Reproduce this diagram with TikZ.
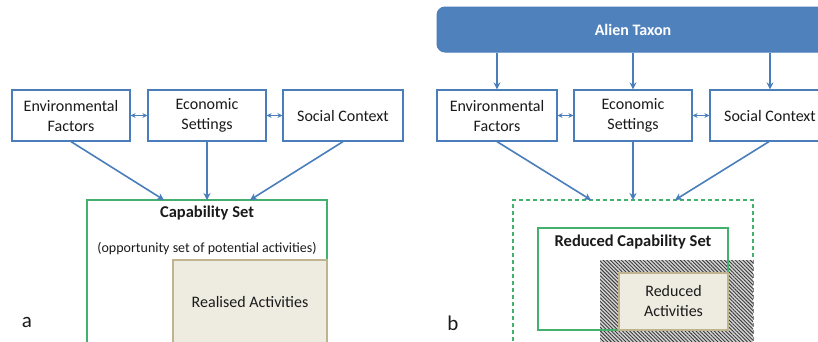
\documentclass[tikz,border=0pt]{standalone}
\usepackage{fontspec}
\setmainfont{Carlito}
\usetikzlibrary{arrows.meta,patterns.meta}

\definecolor{lineblue}{HTML}{4A7EBB}
\definecolor{taxonblue}{HTML}{4F81BD}
\definecolor{setgreen}{HTML}{45B06E}
\definecolor{actfill}{HTML}{EEECE1}
\definecolor{actedge}{HTML}{C0B48E}
\definecolor{hatchbg}{HTML}{D4D4D4}
\definecolor{hatchline}{HTML}{3A3A3A}
\definecolor{ink}{HTML}{1A1A1A}

\tikzset{
  factor/.style={draw=lineblue, line width=1.2pt, fill=white, minimum height=51pt,
    align=center, text=ink, font=\fontsize{16}{18}\selectfont, inner sep=0pt},
  flow/.style={draw=lineblue, line width=1.6pt, -{Stealth[length=7pt,width=7pt]}},
  link/.style={draw=lineblue, line width=1.2pt, {Stealth[length=5pt,width=5pt]}-{Stealth[length=5pt,width=5pt]}},
  capset/.style={draw=setgreen, line width=1.2pt, inner sep=0pt},
  activity/.style={draw=actedge, line width=1.2pt, fill=actfill, inner sep=0pt},
  label/.style={text=ink, font=\fontsize{16}{18}\selectfont, align=center, inner sep=0pt},
  panel/.style={text=ink, font=\fontsize{21}{24}\selectfont, inner sep=0pt},
}

\begin{document}
\begin{tikzpicture}[x=1pt, y=-1pt]
\useasboundingbox (0,0) rectangle (818,341);
\clip (0,0) rectangle (818,341);

% ---------- panel a ----------
\node[factor, minimum width=118pt] (envA) at (71,115.5) {Environmental\\[2pt]Factors};
\node[factor, minimum width=118pt] (ecoA) at (207,115.5) {Economic\\[2pt]Settings};
\node[factor, minimum width=120pt] (socA) at (343,115.5) {Social Context};

\draw[link] (envA) -- (ecoA);
\draw[link] (ecoA) -- (socA);

\node[capset, minimum width=240pt, minimum height=160pt] (capA) at (207,280) {};
\node[activity, minimum width=154pt, minimum height=100pt] (realA) at (250,310) {};

\coordinate (capAl) at (164,200);
\coordinate (capAm) at (207,200);
\coordinate (capAr) at (250,200);
\draw[flow] (envA.south) -- (capAl);
\draw[flow] (ecoA.south) -- (capAm);
\draw[flow] (socA.south) -- (capAr);

\node[label, font=\bfseries\fontsize{16.5}{18}\selectfont] (capAt) at (207,213) {Capability Set};
\node[label, font=\fontsize{14}{16}\selectfont] (capAs) at (207,248) {(opportunity set of potential activities)};
\node[label] (realAt) at (250,302) {Realised Activities};
\node[panel] (pa) at (27,322) {a};

% ---------- panel b ----------
\node[draw=lineblue, line width=1pt, fill=taxonblue, rounded corners=8pt,
      minimum width=392pt, minimum height=45pt, inner sep=0pt] (alien) at (633,29.5) {};
\node[label, text=white, font=\bfseries\fontsize{16}{18}\selectfont] (alienT) at (633,30) {Alien Taxon};

\node[factor, minimum width=120pt] (envB) at (497,115.5) {Environmental\\[2pt]Factors};
\node[factor, minimum width=118pt] (ecoB) at (633,115.5) {Economic\\[2pt]Settings};
\node[factor, minimum width=120pt] (socB) at (770,115.5) {Social Context};

\draw[flow, line width=1.4pt] (alien.south -| envB.north) -- (envB.north);
\draw[flow, line width=1.4pt] (alien.south -| ecoB.north) -- (ecoB.north);
\draw[flow, line width=1.4pt] (alien.south -| socB.north) -- (socB.north);

\draw[link] (envB) -- (ecoB);
\draw[link] (ecoB) -- (socB);

% outer (dashed) frame of the former capability set
\node[capset, dashed, dash pattern=on 4pt off 3pt, minimum width=240pt, minimum height=160pt] (capB) at (633,280) {};

% hatched area of lost activities
\path[pattern={Lines[angle=-45, distance=2.6pt, line width=0.9pt]}, pattern color=hatchline,
      preaction={fill=hatchbg}] (600,260) rectangle (753,345);
\node[inner sep=0pt, minimum width=153pt, minimum height=85pt] (lost) at (676.5,302.5) {};

\node[capset, minimum width=190pt, minimum height=102pt] (redcap) at (633,279) {};
\node[activity, minimum width=109pt, minimum height=57pt] (redact) at (673.5,301.5) {};

\coordinate (capBl) at (591,200);
\coordinate (capBm) at (633,200);
\coordinate (capBr) at (675,200);
\draw[flow] (envB.south) -- (capBl);
\draw[flow] (ecoB.south) -- (capBm);
\draw[flow] (socB.south -| 769,0) -- (capBr);

\node[label, font=\bfseries\fontsize{16.5}{18}\selectfont] (redcapT) at (633,242) {Reduced Capability Set};
\node[label] (redactT) at (673.5,301) {Reduced\\[2pt]Activities};
\node[panel] (pb) at (453,323) {b};
\end{tikzpicture}
\end{document}
